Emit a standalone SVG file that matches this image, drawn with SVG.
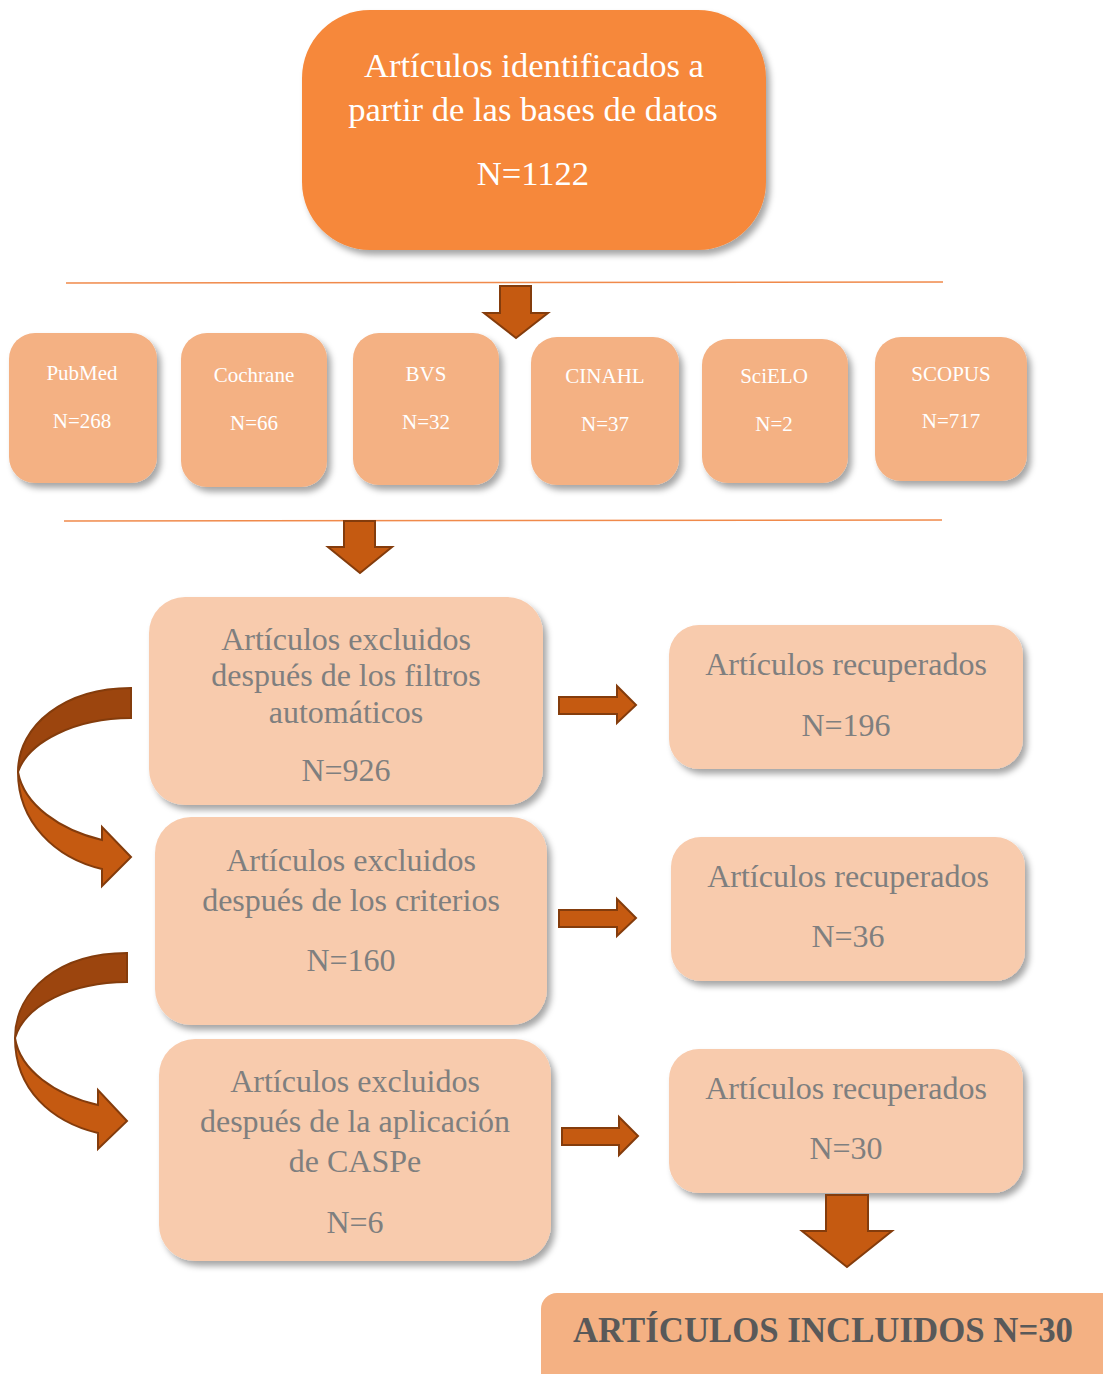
<svg xmlns="http://www.w3.org/2000/svg" width="1103" height="1374" viewBox="0 0 1103 1374">
<defs>
<filter id="sh" x="-10%" y="-10%" width="130%" height="130%">
<feDropShadow dx="4" dy="5" stdDeviation="3" flood-color="#000" flood-opacity="0.35"/>
</filter>
<style>
.top{fill:#F6883A;filter:url(#sh)}
.db{fill:#F4B183;filter:url(#sh)}
.ex{fill:#F8CBAD;filter:url(#sh)}
.fin{fill:#F4B183}
.wt{font-family:"Liberation Serif","Times New Roman",serif;fill:#FFFFFF;text-anchor:middle}
.gt{font-family:"Liberation Serif","Times New Roman",serif;fill:#7F7F7F;text-anchor:middle;font-size:32px}
.arr{fill:#C55A11;stroke:#843C0C;stroke-width:2;stroke-linejoin:miter}
.back{fill:#9C450E;stroke:#843C0C;stroke-width:2}
.rule{stroke:#F08A4B;stroke-width:1.5}
</style>
</defs>

<g id="top">
<rect class="top" x="302" y="10" width="464" height="240" rx="68"/>
<text class="wt" font-size="34.6" x="534" y="77">Artículos identificados a</text>
<text class="wt" font-size="34.6" x="533" y="121">partir de las bases de datos</text>
<text class="wt" font-size="34.6" x="533" y="185">N=1122</text>
</g>

<g id="pubmed">
<rect class="db" x="9" y="333" width="148" height="150" rx="26"/>
<text class="wt" font-size="21" x="82" y="380">PubMed</text>
<text class="wt" font-size="21" x="82" y="428">N=268</text>
</g>
<g id="cochrane">
<rect class="db" x="181" y="333" width="146" height="154" rx="26"/>
<text class="wt" font-size="21" x="254" y="382">Cochrane</text>
<text class="wt" font-size="21" x="254" y="430">N=66</text>
</g>
<g id="bvs">
<rect class="db" x="353" y="333" width="146" height="152" rx="26"/>
<text class="wt" font-size="21" x="426" y="381">BVS</text>
<text class="wt" font-size="21" x="426" y="429">N=32</text>
</g>
<g id="cinahl">
<rect class="db" x="531" y="337" width="148" height="148" rx="26"/>
<text class="wt" font-size="21" x="605" y="383">CINAHL</text>
<text class="wt" font-size="21" x="605" y="431">N=37</text>
</g>
<g id="scielo">
<rect class="db" x="702" y="339" width="146" height="144" rx="26"/>
<text class="wt" font-size="21" x="774" y="383">SciELO</text>
<text class="wt" font-size="21" x="774" y="431">N=2</text>
</g>
<g id="scopus">
<rect class="db" x="875" y="337" width="152" height="144" rx="26"/>
<text class="wt" font-size="21" x="951" y="381">SCOPUS</text>
<text class="wt" font-size="21" x="951" y="428">N=717</text>
</g>

<g id="excl1">
<rect class="ex" x="149" y="597" width="394" height="208" rx="36"/>
<text class="gt" x="346" y="650">Artículos excluidos</text>
<text class="gt" x="346" y="686">después de los filtros</text>
<text class="gt" x="346" y="723">automáticos</text>
<text class="gt" x="346" y="781">N=926</text>
</g>
<g id="excl2">
<rect class="ex" x="155" y="817" width="392" height="208" rx="36"/>
<text class="gt" x="351" y="871">Artículos excluidos</text>
<text class="gt" x="351" y="911">después de los criterios</text>
<text class="gt" x="351" y="971">N=160</text>
</g>
<g id="excl3">
<rect class="ex" x="159" y="1039" width="392" height="222" rx="36"/>
<text class="gt" x="355" y="1092">Artículos excluidos</text>
<text class="gt" x="355" y="1132">después de la aplicación</text>
<text class="gt" x="355" y="1172">de CASPe</text>
<text class="gt" x="355" y="1233">N=6</text>
</g>

<g id="rec1">
<rect class="ex" x="669" y="625" width="354" height="144" rx="30"/>
<text class="gt" x="846" y="675">Artículos recuperados</text>
<text class="gt" x="846" y="736">N=196</text>
</g>
<g id="rec2">
<rect class="ex" x="671" y="837" width="354" height="144" rx="30"/>
<text class="gt" x="848" y="887">Artículos recuperados</text>
<text class="gt" x="848" y="947">N=36</text>
</g>
<g id="rec3">
<rect class="ex" x="669" y="1049" width="354" height="144" rx="30"/>
<text class="gt" x="846" y="1099">Artículos recuperados</text>
<text class="gt" x="846" y="1159">N=30</text>
</g>

<g id="final">
<rect class="fin" x="541" y="1293" width="580" height="100" rx="16"/>
<text x="823" y="1342" font-family="Liberation Serif,'Times New Roman',serif" font-weight="bold" font-size="34.8" fill="#595959" text-anchor="middle">ARTÍCULOS INCLUIDOS N=30</text>
</g>

<g id="connectors">
<line class="rule" x1="66" y1="283" x2="943" y2="282"/>
<line class="rule" x1="64" y1="521" x2="942" y2="520"/>
<path class="arr" d="M500,286 L531,286 L531,313 L548,313 L516,338 L484,313 L500,313 Z"/>
<path class="arr" d="M344,521 L375,521 L375,547 L392,547 L360,573 L328,547 L344,547 Z"/>
<path class="arr" d="M559,697 L617,697 L617,686 L636,705 L617,723 L617,714 L559,714 Z"/>
<path class="arr" d="M559,910 L617,910 L617,899 L636,918 L617,936 L617,927 L559,927 Z"/>
<path class="arr" d="M562,1128 L619,1128 L619,1117 L638,1136 L619,1155 L619,1145 L562,1145 Z"/>
<path class="arr" d="M826,1195 L868,1195 L868,1231 L892,1231 L847,1267 L802,1231 L826,1231 Z"/>
<path class="back" d="M131,688 L131,718 C75,718 28,742 18,772 C18,725 65,688 131,688 Z"/>
<path class="arr" d="M18,772 C18,822 55,858 102,869 L102,886 L131,857 L102,827 L102,840 C60,830 24,805 18,772 Z"/>
<path class="back" d="M127,953 L127,982 C72,982 25,1005 15,1038 C15,990 60,953 127,953 Z"/>
<path class="arr" d="M15,1038 C15,1090 52,1122 98,1133 L98,1149 L127,1121 L98,1090 L98,1105 C55,1095 20,1070 15,1038 Z"/>
</g>
</svg>
